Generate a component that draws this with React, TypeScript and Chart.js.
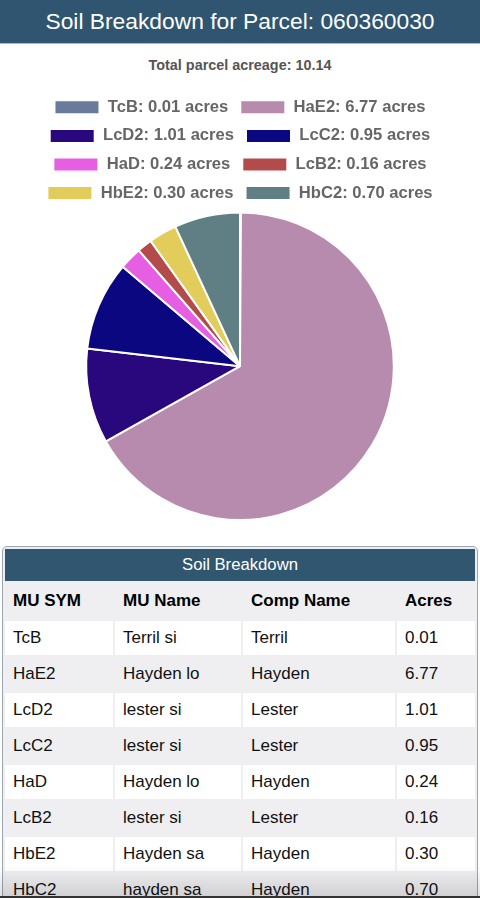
import React, { useEffect, useRef } from "react";
import { Chart, registerables } from "chart.js";

Chart.register(...registerables);

const parcelId = "060360030";
const totalAcreage = "10.14";
const muSymbols = ["TcB", "HaE2", "LcD2", "LcC2", "HaD", "LcB2", "HbE2", "HbC2"];
const acres = [0.01, 6.77, 1.01, 0.95, 0.24, 0.16, 0.3, 0.7];
const muNames = ["Terril si", "Hayden lo", "lester si", "lester si", "Hayden lo", "lester si", "Hayden sa", "hayden sa"];
const compNames = ["Terril", "Hayden", "Lester", "Lester", "Hayden", "Lester", "Hayden", "Hayden"];
const sliceColors = ["#687b9b", "#b78bae", "#28087c", "#0b0780", "#e65ee2", "#b24b4a", "#e2cd5b", "#5f7f84"];
const tableColumns = ["MU SYM", "MU Name", "Comp Name", "Acres"];

const FONT = "'Liberation Sans', Arial, Helvetica, sans-serif";

export default function App() {
  const canvasRef = useRef<HTMLCanvasElement | null>(null);

  useEffect(() => {
    document.body.style.margin = "0";
    document.body.style.fontFamily = FONT;
    const ctx = canvasRef.current;
    if (!ctx) return;
    const chart = new Chart(ctx, {
      type: "pie",
      data: {
        labels: muSymbols.map((s, i) => `${s}: ${acres[i].toFixed(2)} acres`),
        datasets: [
          {
            data: acres,
            backgroundColor: sliceColors,
            borderColor: "#ffffff",
            borderWidth: 2,
          },
        ],
      },
      options: {
        animation: false,
        responsive: false,
        maintainAspectRatio: false,
        layout: { padding: { top: 2, bottom: 0, left: 0, right: 0 } },
        plugins: {
          tooltip: { enabled: false },
          legend: {
            position: "top",
            labels: {
              boxWidth: 45,
              boxHeight: 14,
              padding: 12,
              color: "#666666",
              font: { family: FONT, size: 16.6, weight: "bold" },
            },
          },
        },
      },
    });
    return () => chart.destroy();
  }, []);

  const cellBase: React.CSSProperties = {
    padding: "0 8px",
    height: 34,
    fontSize: 17,
    color: "#111",
    textAlign: "left",
    verticalAlign: "middle",
  };

  return (
    <div style={{ width: 480, fontFamily: FONT, position: "relative" }}>
      <div
        style={{
          height: 44,
          background: "#2f5570",
          color: "#ffffff",
          fontSize: 22.8,
          display: "flex",
          alignItems: "center",
          justifyContent: "center",
          borderBottom: "1px solid #a9b9c6",
          boxSizing: "border-box",
        }}
      >
        Soil Breakdown for Parcel: {parcelId}
      </div>
      <div
        style={{
          height: 41,
          display: "flex",
          alignItems: "center",
          justifyContent: "center",
          fontSize: 14.4,
          fontWeight: "bold",
          color: "#555",
        }}
      >
        Total parcel acreage: {totalAcreage}
      </div>
      <canvas ref={canvasRef} width={480} height={436} style={{ display: "block", width: 480, height: 436 }} />
      <div
        style={{
          position: "absolute",
          top: 546,
          left: 2,
          width: 476,
          border: "1px solid #9aa6b0",
          borderRadius: 5,
          boxSizing: "border-box",
          background: "#efeff2",
          overflow: "hidden",
          height: 400,
        }}
      >
        <div
          style={{
            height: 32,
            margin: "2px 2px 0 2px",
            background: "#31566f",
            color: "#fff",
            fontSize: 16.7,
            display: "flex",
            alignItems: "center",
            justifyContent: "center",
          }}
        >
          Soil Breakdown
        </div>
        <table
          style={{
            borderSpacing: 2,
            width: "100%",
            tableLayout: "fixed",
            fontFamily: FONT,
            marginTop: 0,
          }}
        >
          <colgroup>
            <col style={{ width: 108 }} />
            <col style={{ width: 126 }} />
            <col style={{ width: 152 }} />
            <col />
          </colgroup>
          <thead>
            <tr>
              {tableColumns.map((c) => (
                <th key={c} style={{ ...cellBase, height: 36, fontWeight: "bold", color: "#000", background: "#efeff2" }}>
                  {c}
                </th>
              ))}
            </tr>
          </thead>
          <tbody>
            {muSymbols.map((s, i) => {
              const bg = i % 2 === 0 ? "#ffffff" : "#efeff2";
              return (
                <tr key={s}>
                  <td style={{ ...cellBase, background: bg }}>{s}</td>
                  <td style={{ ...cellBase, background: bg }}>{muNames[i]}</td>
                  <td style={{ ...cellBase, background: bg }}>{compNames[i]}</td>
                  <td style={{ ...cellBase, background: bg }}>{acres[i].toFixed(2)}</td>
                </tr>
              );
            })}
          </tbody>
        </table>
      </div>
      <div
        style={{
          position: "absolute",
          top: 866,
          left: 0,
          width: 480,
          height: 30,
          background: "linear-gradient(to bottom, rgba(0,0,0,0), rgba(0,0,0,0.12))",
          pointerEvents: "none",
        }}
      />
      <div style={{ position: "absolute", top: 896, left: 0, width: 480, height: 2, background: "#333" }} />
      <div style={{ height: 460 }} />
    </div>
  );
}
